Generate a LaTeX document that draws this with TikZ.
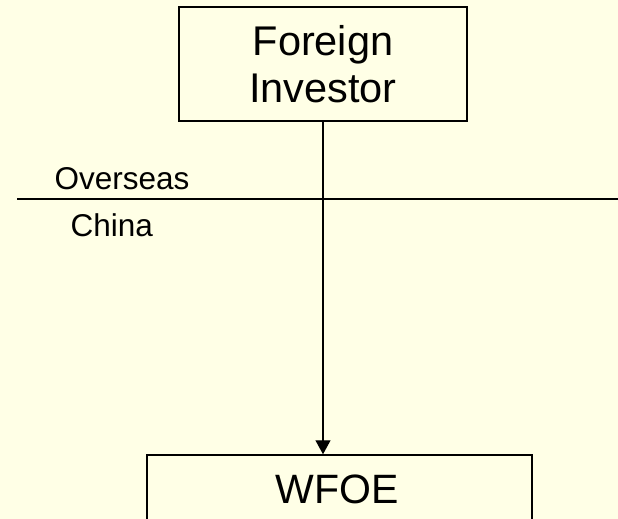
\documentclass[tikz,border=0pt]{standalone}
\usepackage{fontspec}
\setmainfont{Liberation Sans}
\usetikzlibrary{arrows.meta}
\definecolor{paper}{RGB}{255,255,230}
\tikzset{
  entity/.style={draw=black, line width=1.8pt, inner sep=0pt, align=center,
                 font=\fontsize{41.5}{47}\selectfont},
  region/.style={inner sep=0pt, anchor=base west, font=\fontsize{31.5}{36}\selectfont},
  flow/.style={line width=1.3pt, -{Triangle[width=15pt,length=14pt]}},
  border/.style={line width=1.6pt}
}
\begin{document}
\begin{tikzpicture}[x=1pt,y=-1pt]
  \useasboundingbox (0,0) rectangle (618,519);
  \fill[paper] (0,0) rectangle (618,519);
  \clip (0,0) rectangle (618,519);

  % investor box at the top
  \node[entity, minimum width=288pt, minimum height=114pt] (investor) at (323,64)
    {Foreign\\Investor};

  % subsidiary box running off the bottom edge
  \node[draw=black, line width=1.5pt, minimum width=385pt, minimum height=110pt,
        inner sep=0pt] (wfoe) at (339.5,510) {};
  \node[inner sep=0pt, anchor=base, font=\fontsize{41}{47}\selectfont]
    (wfoetext) at (337,503) {WFOE};

  % border between the two regions
  \coordinate (bleft) at (17,199);
  \coordinate (bright) at (618,199);
  \draw[border] (bleft) -- (bright);
  \node[region] (overseas) at (54.5,189) {Overseas};
  \node[region] (china) at (70.5,236) {China};

  % investment flow
  \draw[flow] (investor.south) -- (investor.south |- wfoe.north);
\end{tikzpicture}
\end{document}
